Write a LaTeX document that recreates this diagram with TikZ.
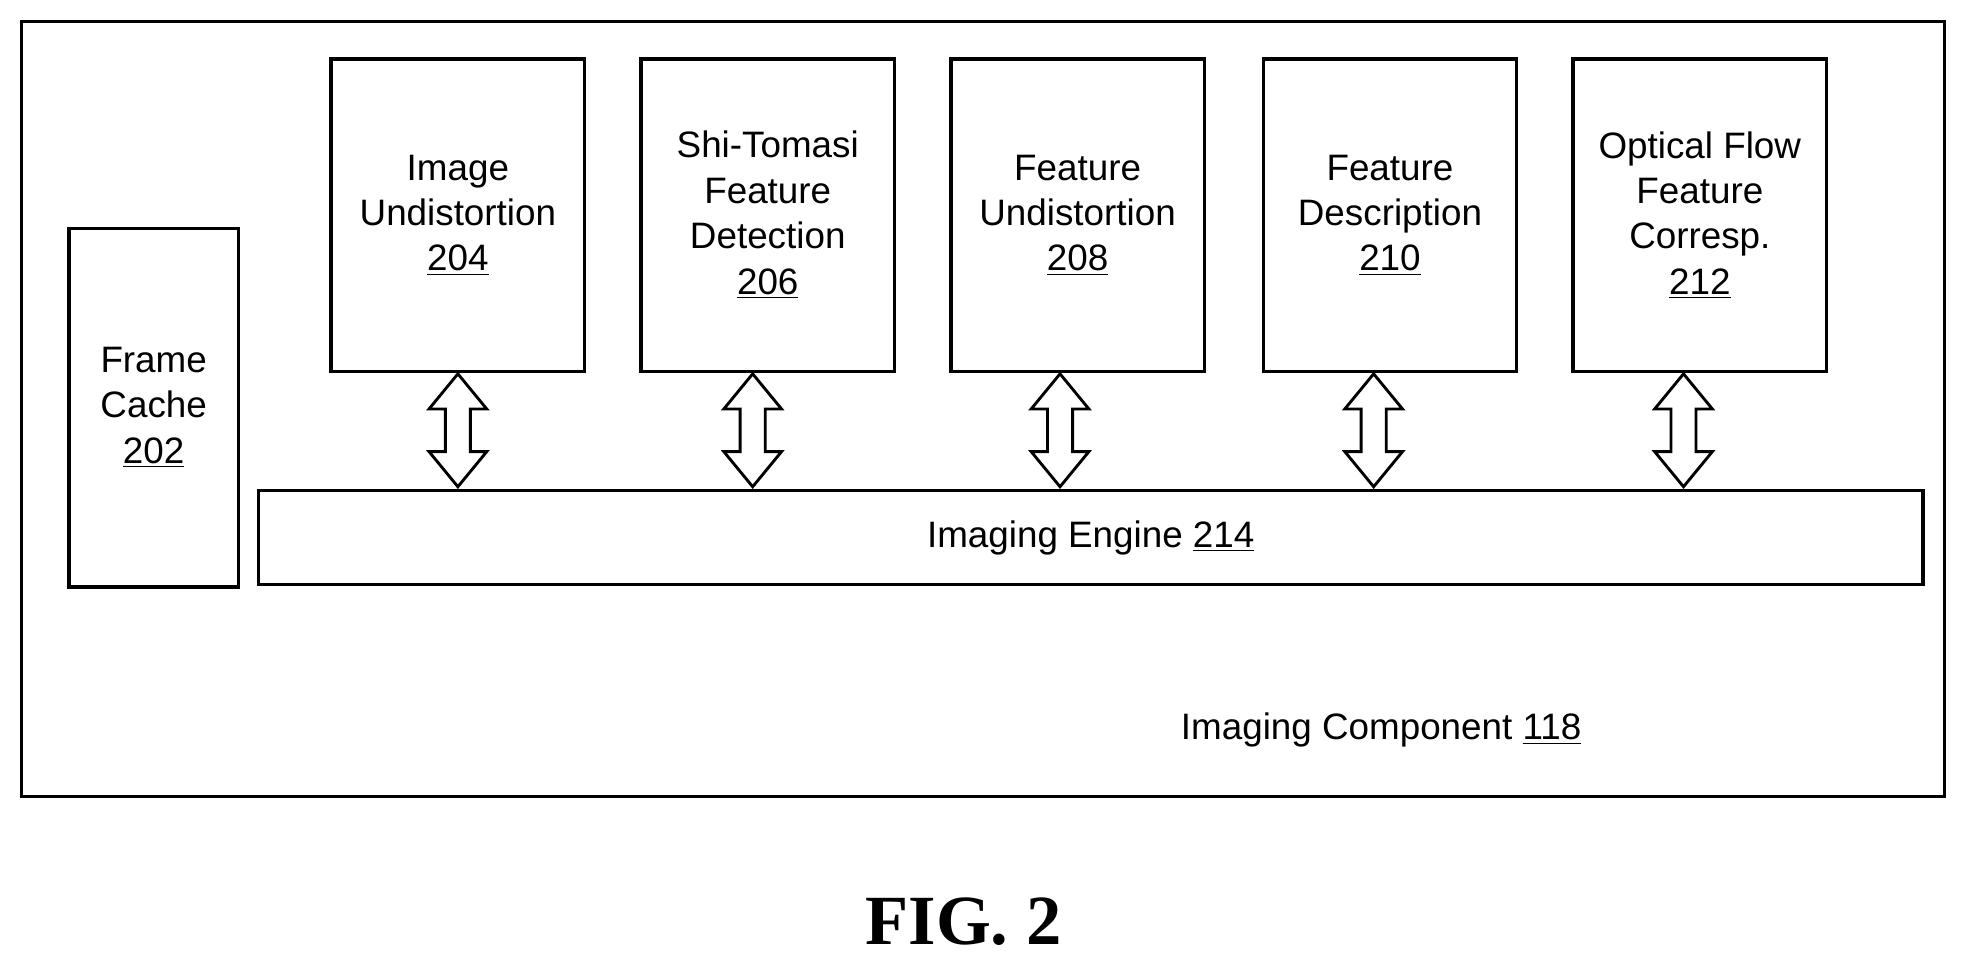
\documentclass[tikz,border=0pt]{standalone}
\usepackage{fontspec}
\setmainfont{Liberation Sans}
\newfontfamily\figfont{Liberation Serif}
\begin{document}
\begin{tikzpicture}[x=0.02cm,y=-0.02cm,
  box/.style={draw,line width=1.6pt,inner sep=0pt,align=center,font=\fontsize{16.7}{20.6}\selectfont},
  lbl/.style={font=\fontsize{16.7}{20.6}\selectfont,align=center}]
\useasboundingbox (0,0) rectangle (1568,771);
\draw[line width=1.6pt] (17,17) rectangle (1550,635);
\node[box,minimum width=2.7cm,minimum height=5.72cm] (fc) at (122.5,325) {Frame\\Cache\\\underline{202}};
\node[box,minimum width=26.54cm,minimum height=1.5cm] (ie) at (869.5,428.5) {Imaging Engine \underline{214}};
\foreach \n/\x/\t in {a/365/{Image\\Undistortion\\\underline{204}},
  b/612/{Shi-Tomasi\\Feature\\Detection\\\underline{206}},
  c/859/{Feature\\Undistortion\\\underline{208}},
  d/1108/{Feature\\Description\\\underline{210}},
  e/1355/{Optical Flow\\Feature\\Corresp.\\\underline{212}}}{
  \node[box,minimum width=4.04cm,minimum height=4.98cm] (\n) at (\x,171.5) {\t};
}
\foreach \n/\x in {a/365,b/600,c/845,d/1095,e/1342}{
  \coordinate (arr\n) at (\x,343);
  \draw[line width=1.3pt,line join=miter] (arr\n)
    ++(0,-45) -- ++(23,28) -- ++(-13,0) -- ++(0,34) -- ++(13,0) -- ++(-23,28)
    -- ++(-23,-28) -- ++(13,0) -- ++(0,-34) -- ++(-13,0) -- cycle;
}
\node[lbl] (ic) at (1101,582) {Imaging Component \underline{118}};
\node[font=\figfont\fontsize{32}{36}\selectfont\bfseries] (fig) at (768,735) {FIG. 2};
\end{tikzpicture}
\end{document}
